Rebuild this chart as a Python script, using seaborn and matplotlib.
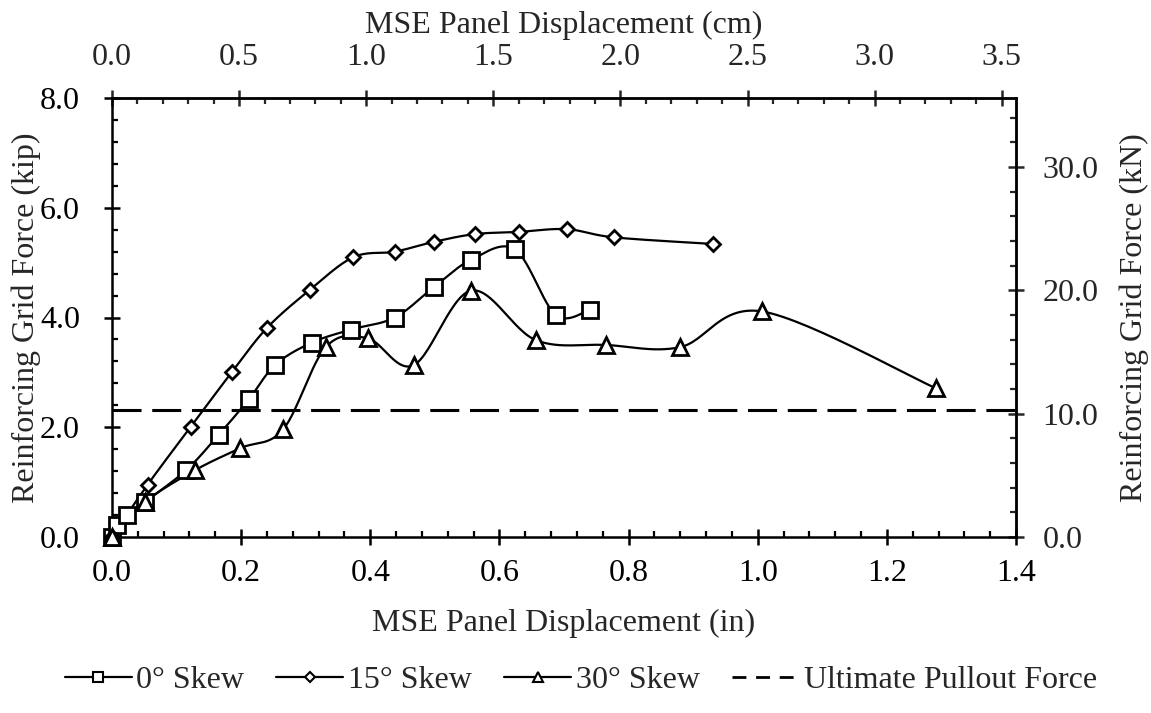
import numpy as np
import pandas as pd
import matplotlib
matplotlib.use("Agg")
import matplotlib.pyplot as plt
from matplotlib.lines import Line2D
from matplotlib.ticker import MultipleLocator, FormatStrFormatter
import seaborn as sns

# ---- data (displacement in inches, force in kip) ----
x_0 = [0.0, 0.007, 0.023, 0.051, 0.115, 0.165, 0.212, 0.253, 0.309, 0.370, 0.438, 0.499, 0.556, 0.624, 0.687, 0.740]
y_0 = [0.0, 0.22, 0.40, 0.64, 1.22, 1.86, 2.51, 3.14, 3.54, 3.78, 4.00, 4.56, 5.05, 5.24, 4.05, 4.14]

x_15 = [0.0, 0.055, 0.122, 0.186, 0.240, 0.306, 0.374, 0.438, 0.499, 0.562, 0.630, 0.704, 0.778, 0.931]
y_15 = [0.0, 0.95, 2.01, 3.01, 3.81, 4.50, 5.10, 5.20, 5.38, 5.52, 5.56, 5.61, 5.46, 5.34]

x_30 = [0.0, 0.051, 0.129, 0.199, 0.265, 0.331, 0.396, 0.467, 0.556, 0.656, 0.765, 0.880, 1.007, 1.276]
y_30 = [0.0, 0.64, 1.22, 1.62, 1.96, 3.46, 3.62, 3.13, 4.49, 3.59, 3.50, 3.46, 4.11, 2.71]

pullout_force = 2.31  # kip

series_labels = ["0° Skew", "15° Skew", "30° Skew"]
pullout_label = "Ultimate Pullout Force"

IN_TO_CM = 2.54
KIP_TO_KN = 4.448

sns.set_theme(style="ticks")
plt.rcParams["font.family"] = ["Liberation Serif", "DejaVu Serif"]

FS = 23

fig = plt.figure(figsize=(11.51, 7.13), dpi=100)
ax = fig.add_axes([112 / 1151, 1 - 537 / 713, (1016 - 112) / 1151, (537 - 98) / 713])

XMAX, YMAX = 1.4, 8.0
SX, SY = 904 / XMAX, 439 / YMAX


def smooth(xs, ys, n=30):
    # Bezier smoothing (Excel-like) in screen-proportional space
    P = np.column_stack([np.asarray(xs) * SX, np.asarray(ys) * SY])
    out = [P[0]]
    m = len(P)
    t = np.linspace(0, 1, n)[1:]
    for i in range(m - 1):
        p0 = P[i - 1] if i > 0 else P[i]
        p1, p2 = P[i], P[i + 1]
        p3 = P[i + 2] if i + 2 < m else P[i + 1]
        b1 = p1 + (p2 - p0) / 6.0
        b2 = p2 - (p3 - p1) / 6.0
        for tt in t:
            pt = ((1 - tt) ** 3) * p1 + 3 * ((1 - tt) ** 2) * tt * b1 + 3 * (1 - tt) * tt ** 2 * b2 + tt ** 3 * p2
            out.append(pt)
    out = np.array(out)
    return out[:, 0] / SX, out[:, 1] / SY


markers = ["s", "D", "^"]
msizes = [11, 7.5, 11]
series = [(x_0, y_0), (x_15, y_15), (x_30, y_30)]
LW = 1.6

for (xs, ys), mk, ms in zip(series, markers, msizes):
    sx, sy = smooth(xs, ys)
    sns.lineplot(x=sx, y=sy, sort=False, estimator=None, color="black", linewidth=LW, ax=ax)
    ax.plot(xs, ys, linestyle="none", marker=mk, markersize=ms, markerfacecolor="white",
            markeredgecolor="black", markeredgewidth=2.0, zorder=5, clip_on=False)

ax.axhline(pullout_force, color="black", linewidth=2.2, dashes=(9.5, 3.5), zorder=3)

ax.set_xlim(0, XMAX)
ax.set_ylim(0, YMAX)
ax.xaxis.set_major_locator(MultipleLocator(0.2))
ax.xaxis.set_minor_locator(MultipleLocator(0.04))
ax.yaxis.set_major_locator(MultipleLocator(2.0))
ax.yaxis.set_minor_locator(MultipleLocator(0.4))
ax.xaxis.set_major_formatter(FormatStrFormatter("%.1f"))
ax.yaxis.set_major_formatter(FormatStrFormatter("%.1f"))

for s in ax.spines.values():
    s.set_linewidth(1.8)
    s.set_color("black")

ax.tick_params(axis="both", which="major", direction="inout", length=12, width=1.8,
               labelsize=FS, colors="black")
ax.tick_params(axis="x", which="major", pad=10)
ax.tick_params(axis="y", which="major", pad=17)
ax.tick_params(axis="both", which="minor", direction="in", length=4.5, width=1.6, colors="black")

ax.set_xlabel("MSE Panel Displacement (in)", fontsize=FS, labelpad=15)
ax.set_ylabel("Reinforcing Grid Force (kip)", fontsize=FS, labelpad=-1)

secx = ax.secondary_xaxis("top", functions=(lambda v: v * IN_TO_CM, lambda v: v / IN_TO_CM))
secx.xaxis.set_major_locator(MultipleLocator(0.5))
secx.xaxis.set_minor_locator(MultipleLocator(0.1))
secx.xaxis.set_major_formatter(FormatStrFormatter("%.1f"))
secx.tick_params(which="major", direction="inout", length=12, width=1.8, labelsize=FS, pad=13)
secx.tick_params(which="minor", direction="in", length=4.5, width=1.6)
secx.set_xlabel("MSE Panel Displacement (cm)", fontsize=FS, labelpad=7)
secx.spines["top"].set_linewidth(1.8)

secy = ax.secondary_yaxis("right", functions=(lambda v: v * KIP_TO_KN, lambda v: v / KIP_TO_KN))
secy.yaxis.set_major_locator(MultipleLocator(10.0))
secy.yaxis.set_minor_locator(MultipleLocator(2.0))
secy.yaxis.set_major_formatter(FormatStrFormatter("%.1f"))
secy.tick_params(which="major", direction="inout", length=12, width=1.8, labelsize=FS, pad=13)
secy.tick_params(which="minor", direction="in", length=4.5, width=1.6)
secy.set_ylabel("Reinforcing Grid Force (kN)", fontsize=FS, labelpad=15)
secy.spines["right"].set_linewidth(1.8)

handles = [
    Line2D([], [], color="black", linewidth=LW, marker="s", markersize=7, markerfacecolor="white",
           markeredgecolor="black", markeredgewidth=1.5),
    Line2D([], [], color="black", linewidth=LW, marker="D", markersize=5, markerfacecolor="white",
           markeredgecolor="black", markeredgewidth=1.5),
    Line2D([], [], color="black", linewidth=LW, marker="^", markersize=7, markerfacecolor="white",
           markeredgecolor="black", markeredgewidth=1.5),
    Line2D([], [], color="black", linewidth=2.0, dashes=(5, 3.5)),
]
fig.legend(handles, series_labels + [pullout_label], loc="center", bbox_to_anchor=(0.5045, 1 - 680 / 713),
           ncol=4, frameon=False, fontsize=FS, handlelength=2.1, handletextpad=0.15, columnspacing=1.0)

fig.savefig("out.png", dpi=100)
